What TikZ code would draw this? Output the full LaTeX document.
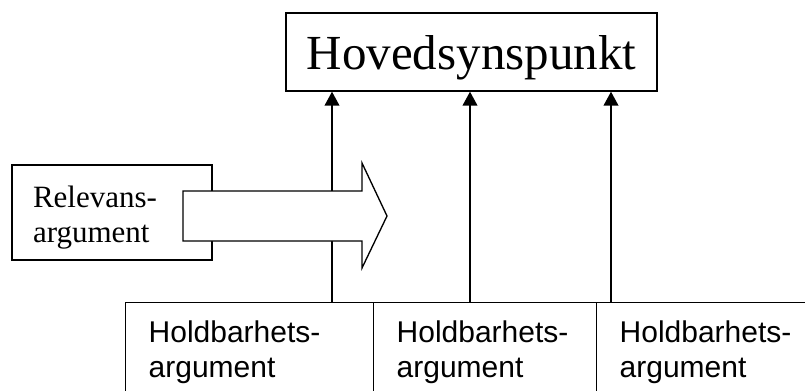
\documentclass[tikz,border=0pt]{standalone}
\usepackage{fontspec}
\setmainfont{Liberation Serif}
\setsansfont{Liberation Sans}
\usetikzlibrary{arrows.meta}

\tikzset{every picture/.style={line width=0.75pt}}
\tikzset{
	box/.style={draw, line width=1pt, fill=white, align=left},
	holdbox/.style={box, anchor=north west, inner xsep=17.25pt, inner ysep=13.9pt,
		font=\sffamily\fontsize{22.5}{26.25}\selectfont},
	uparrow/.style={line width=1.4pt, -{Triangle[width=11pt,length=10.5pt]}},
}

\begin{document}
\begin{tikzpicture}[x=0.75pt,y=0.75pt,yscale=-1,xscale=1]
	\clip (0,0) rectangle (805,390);
	\useasboundingbox (0,0) rectangle (805,390);

	% Main point
	\node (hoved) at (471.5,52) [box, minimum width=278.25pt, minimum height=58.5pt, inner sep=0pt, text depth=0pt,
		font=\fontsize{36.75}{44}\selectfont] {Hovedsynspunkt};

	% Relevance box on the left
	\node (rel) at (112,212.5) [box, text width=118.5pt, inner xsep=15.75pt, inner ysep=0pt, minimum height=71.25pt,
		text depth=24pt, font=\fontsize{23.25}{26.25}\selectfont] {Relevans-\\argument};

	% Bottom row, runs off the page
	\node (hold1) at (125,302) [holdbox, text width=151.5pt] {Holdbarhets-\\argument};
	\node (hold2) at (373,302) [holdbox, text width=132.75pt] {Holdbarhets-\\argument};
	\node (hold3) at (596,302) [holdbox, text width=138pt] {Holdbarhets-\\argument};

	% Arrows up to the main point
	\coordinate (c1) at (332,0);
	\coordinate (c2) at (470,0);
	\coordinate (c3) at (611,0);
	\draw [uparrow] (hold1.north -| c1) -- (hoved.south -| c1);
	\draw [uparrow] (hold2.north -| c2) -- (hoved.south -| c2);
	\draw [uparrow] (hold3.north -| c3) -- (hoved.south -| c3);

	% Block arrow over the first line
	\draw [line width=1pt, fill=white] (183,191) -- (362,191) -- (362,163) -- (387,216) -- (362,268) -- (362,241) -- (183,241) -- cycle;

\end{tikzpicture}
\end{document}
